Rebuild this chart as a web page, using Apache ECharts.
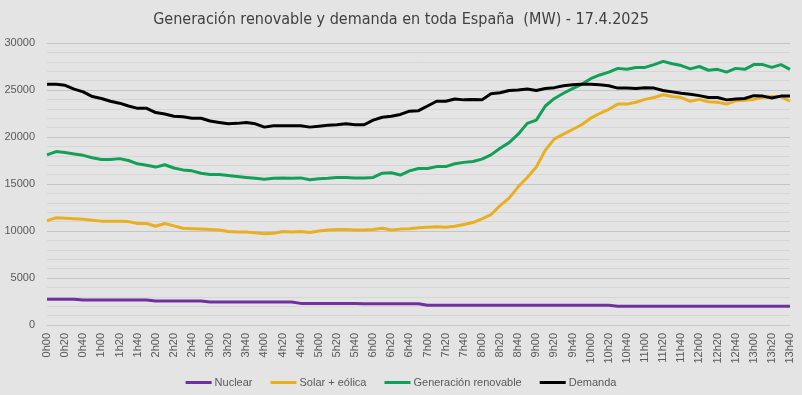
<!DOCTYPE html>
<html>
<head>
<meta charset="utf-8">
<script src="https://cdn.jsdelivr.net/npm/echarts@6/dist/echarts.min.js"></script>
<style>
html,body{margin:0;padding:0;background:#e4e4e4;}
#chart{width:802px;height:395px;}
</style>
</head>
<body>
<div id="chart"></div>
<script>
var titleText = 'Generación renovable y demanda en toda España  (MW) - 17.4.2025';
var categories = ['0h00','0h10','0h20','0h30','0h40','0h50','1h00','1h10','1h20','1h30','1h40','1h50',
'2h00','2h10','2h20','2h30','2h40','2h50','3h00','3h10','3h20','3h30','3h40','3h50',
'4h00','4h10','4h20','4h30','4h40','4h50','5h00','5h10','5h20','5h30','5h40','5h50',
'6h00','6h10','6h20','6h30','6h40','6h50','7h00','7h10','7h20','7h30','7h40','7h50',
'8h00','8h10','8h20','8h30','8h40','8h50','9h00','9h10','9h20','9h30','9h40','9h50',
'10h00','10h10','10h20','10h30','10h40','10h50','11h00','11h10','11h20','11h30','11h40','11h50',
'12h00','12h10','12h20','12h30','12h40','12h50','13h00','13h10','13h20','13h30','13h40'];

var seriesNames = ['Nuclear','Solar + eólica','Generación renovable','Demanda'];

var nuclear = [2750,2750,2750,2750,2650,2650,2650,2650,2650,2650,2650,2650,
2550,2550,2550,2550,2550,2550,2450,2450,2450,2450,2450,2450,
2450,2450,2450,2450,2300,2300,2300,2300,2300,2300,2300,2250,
2250,2250,2250,2250,2250,2250,2100,2100,2100,2100,2100,2100,
2100,2100,2100,2100,2100,2100,2100,2100,2100,2100,2100,2100,
2100,2100,2100,2000,2000,2000,2000,2000,2000,2000,2000,2000,
2000,2000,2000,2000,2000,2000,2000,2000,2000,2000,2000];

var solarEolica = [11100,11400,11350,11300,11250,11150,11050,11050,11050,11000,10800,10800,
10500,10800,10550,10300,10250,10200,10150,10100,9950,9900,9900,9800,
9700,9750,9950,9900,9950,9850,10000,10100,10150,10150,10100,10100,
10150,10300,10100,10200,10250,10350,10400,10450,10400,10500,10700,10900,
11300,11750,12700,13500,14700,15700,16800,18600,19800,20300,20800,21300,
22000,22500,22950,23500,23500,23700,24000,24200,24500,24300,24200,23800,
24000,23750,23700,23500,23850,23900,24000,24200,24300,24300,23800];

var renovable = [18100,18450,18350,18200,18050,17800,17600,17600,17700,17500,17150,17000,
16800,17050,16700,16500,16400,16150,16000,16000,15900,15800,15700,15600,
15500,15600,15650,15600,15650,15450,15550,15600,15700,15700,15650,15650,
15700,16150,16200,15950,16400,16650,16650,16850,16850,17150,17300,17400,
17650,18100,18800,19400,20300,21450,21800,23300,24100,24650,25150,25600,
26200,26600,26900,27300,27200,27400,27400,27700,28050,27800,27600,27250,
27500,27100,27200,26900,27300,27200,27700,27700,27400,27700,27200];

var demanda = [25600,25600,25500,25100,24800,24300,24100,23800,23600,23300,23050,23050,
22600,22450,22200,22150,22000,22000,21700,21550,21400,21450,21550,21400,
21050,21200,21200,21200,21200,21050,21150,21250,21300,21400,21300,21300,
21800,22100,22200,22400,22750,22800,23300,23800,23800,24050,23950,24000,
23950,24600,24700,24950,25000,25100,24950,25150,25250,25450,25550,25600,
25600,25550,25450,25200,25200,25150,25250,25200,24950,24800,24650,24550,
24400,24200,24200,23950,24050,24100,24400,24350,24150,24350,24350];

var colors = ['#7030a0','#e8b020','#12a058','#000000'];

var chart = echarts.init(document.getElementById('chart'), null, {renderer:'canvas'});
function mk(name, data, color){
  return {name:name, type:'line', data:data, symbol:'none', showSymbol:false,
    lineStyle:{width:3, color:color}, itemStyle:{color:color}, emphasis:{disabled:true}, animation:false};
}
chart.setOption({
  backgroundColor:'#e4e4e4',
  animation:false,
  title:{text:titleText, left:'center', top:7,
    textStyle:{fontFamily:'"Liberation Sans Narrow","DejaVu Sans Condensed",sans-serif', fontSize:16, fontWeight:'normal', color:'#404040'}},
  grid:{left:47, right:12, top:43, bottom:70, containLabel:false},
  legend:{bottom:2, left:'center', itemWidth:26, itemHeight:3, itemGap:18, icon:'rect',
    textStyle:{fontFamily:'"Liberation Sans",Arial,sans-serif', fontSize:11, color:'#595959', padding:[0,0,0,-2]},
    data:seriesNames},
  xAxis:{type:'category', data:categories, boundaryGap:false,
    axisLine:{show:true, lineStyle:{color:'#c8c8c8', width:1}},
    axisTick:{show:false},
    splitLine:{show:false},
    axisLabel:{interval:1, rotate:90, margin:8, fontSize:11, color:'#595959', fontFamily:'"Liberation Sans",Arial,sans-serif'}},
  yAxis:{type:'value', min:0, max:30000, interval:5000,
    axisLine:{show:false}, axisTick:{show:false},
    axisLabel:{fontSize:11, color:'#595959', margin:12, fontFamily:'"Liberation Sans",Arial,sans-serif',
      formatter:function(v){return String(v);}},
    splitLine:{show:true, lineStyle:{color:'#c4c4c4', width:1}},
    minorTick:{show:false, splitNumber:5},
    minorSplitLine:{show:true, lineStyle:{color:'#d6d6d6', width:1}}},
  series:[mk(seriesNames[0], nuclear, colors[0]), mk(seriesNames[1], solarEolica, colors[1]),
          mk(seriesNames[2], renovable, colors[2]), mk(seriesNames[3], demanda, colors[3])]
});
</script>
</body>
</html>
